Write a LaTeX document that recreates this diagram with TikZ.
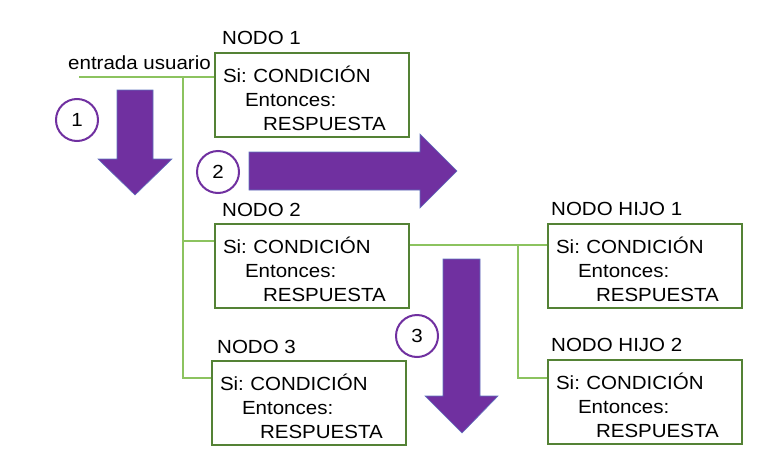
\documentclass[tikz,border=0pt]{standalone}
\usepackage{fontspec}
\setmainfont[FakeStretch=1.08]{Liberation Sans}
\usetikzlibrary{positioning,calc}
\frenchspacing
\definecolor{verdeborde}{RGB}{84,130,53}
\definecolor{verdelinea}{RGB}{140,195,95}
\definecolor{morado}{RGB}{112,48,160}
\definecolor{bordeflecha}{RGB}{95,115,190}
\newcommand{\regla}{\rule{0pt}{22.5pt}Si: CONDICIÓN\\\hspace*{22pt}Entonces:\\\hspace*{40pt}RESPUESTA}
\tikzset{caja/.style={rectangle, draw=verdeborde, line width=2pt,
    fill=white, anchor=north west, minimum width=194pt, minimum height=84pt,
    text width=178pt, inner xsep=8pt, inner ysep=0pt, align=left,
    font=\fontsize{19}{24}\selectfont},
  etiqueta/.style={inner sep=0pt, anchor=west, font=\fontsize{19}{24}\selectfont},
  circulo/.style={circle, draw=morado, line width=2pt, fill=white,
    minimum size=42pt, inner sep=0pt, font=\fontsize{19}{24}\selectfont},
  conector/.style={-, draw=verdelinea, line width=2pt},
  flecha/.style={fill=morado, draw=bordeflecha, line width=0.6pt}
}

\begin{document}
\begin{tikzpicture}[x=1pt, y=-1pt]

   \useasboundingbox (0,0) rectangle (783,471);

   %Rule nodes
   \node (n1) [caja] at (214,52) {\regla};
   \node (n2) [caja] at (214,223) {\regla};
   \node (n3) [caja] at (211,360) {\regla};
   \node (h1) [caja] at (547,223) {\regla};
   \node (h2) [caja] at (547,359) {\regla};

   %Titles above the rule nodes
   \node (t1) [etiqueta] at ([xshift=8pt, yshift=14pt]n1.north west) {NODO 1};
   \node (t2) [etiqueta] at ([xshift=8pt, yshift=13pt]n2.north west) {NODO 2};
   \node (t3) [etiqueta] at ([xshift=6pt, yshift=13pt]n3.north west) {NODO 3};
   \node (th1) [etiqueta] at ([xshift=4pt, yshift=14pt]h1.north west) {NODO HIJO 1};
   \node (th2) [etiqueta] at ([xshift=4pt, yshift=14pt]h2.north west) {NODO HIJO 2};

   %User input
   \node (entrada) [etiqueta] at (68,63) {entrada usuario};
   \coordinate (inicio) at (79,77);
   \coordinate (tronco) at (183,77);
   \coordinate (bif) at (518,245);

   %Connectors
   \draw[conector] (inicio) -- (inicio -| n1.west);
   \draw[conector] (tronco) |- ($(n3.north west)+(0,18)$);
   \draw[conector] (tronco |- {$(n2.north west)+(0,18)$}) -- ($(n2.north west)+(0,18)$);
   \draw[conector] (bif -| n2.east) -- (bif -| h1.west);
   \draw[conector] (bif) |- ($(h2.north west)+(0,19)$);

   %Step arrows
   \draw[flecha] (117,90) -- (153,90) -- (153,159) -- (172,159) -- (135,195)
      -- (98,159) -- (117,159) -- cycle;
   \draw[flecha] (249,152) -- (420,152) -- (420,134) -- (457,171) -- (420,208)
      -- (420,190) -- (249,190) -- cycle;
   \draw[flecha] (443,259) -- (480,259) -- (480,396) -- (498,396) -- (462,433)
      -- (425,396) -- (443,396) -- cycle;

   %Step numbers
   \node (c1) [circulo] at (77,120) {1};
   \node (c2) [circulo] at (218,172) {2};
   \node (c3) [circulo] at (417,336) {3};

\end{tikzpicture}
\end{document}
